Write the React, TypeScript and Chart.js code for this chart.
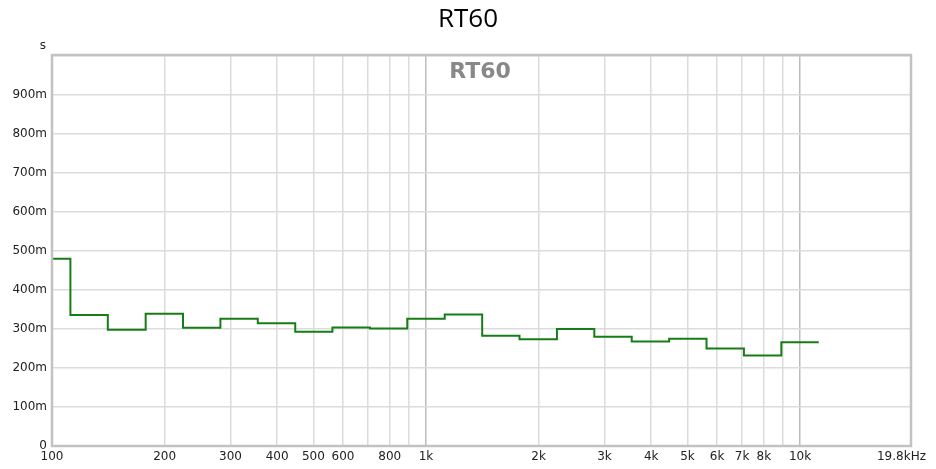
import React, { useEffect, useRef } from "react";
import { Chart, registerables } from "chart.js";

Chart.register(...registerables);

// Third-octave band lower edges (Hz) and RT60 values (s)
const bandStarts = [100, 112, 141, 178, 224, 282, 355, 447, 562, 708, 891, 1122, 1413, 1778, 2239, 2818, 3548, 4467, 5623, 7079, 8913];
const bandEnd = 11220;
const rt60 = [0.48, 0.336, 0.298, 0.339, 0.303, 0.326, 0.315, 0.293, 0.304, 0.301, 0.326, 0.337, 0.283, 0.274, 0.3, 0.28, 0.268, 0.275, 0.25, 0.232, 0.266];

const xTicks = [100, 200, 300, 400, 500, 600, 700, 800, 900, 1000, 2000, 3000, 4000, 5000, 6000, 7000, 8000, 9000, 10000, 19800];
const xTickLabels = ["100", "200", "300", "400", "500", "600", "", "800", "", "1k", "2k", "3k", "4k", "5k", "6k", "7k", "8k", "", "10k", "19.8kHz     "];
const majorX = [1000, 10000];

const FONT = "'DejaVu Sans', sans-serif";

export default function App() {
  const ref = useRef<HTMLCanvasElement | null>(null);

  useEffect(() => {
    if (!ref.current) return;
    const points = bandStarts.map((x, i) => ({ x, y: rt60[i] }));
    points.push({ x: bandEnd, y: rt60[rt60.length - 1] });

    const decor = {
      id: "decor",
      afterDraw(chart: any) {
        const { ctx, chartArea } = chart;
        ctx.save();
        ctx.strokeStyle = "#c2c2c2";
        ctx.lineWidth = 2.5;
        ctx.strokeRect(chartArea.left, chartArea.top - 1, chartArea.right - chartArea.left, chartArea.bottom - chartArea.top + 1);
        ctx.textAlign = "center";
        ctx.textBaseline = "middle";
        ctx.fillStyle = "#000";
        ctx.font = "26px 'Open Sans', sans-serif";
        ctx.fillText("RT60", 468, 20);
        ctx.fillStyle = "#888";
        ctx.font = "bold 22px " + FONT;
        ctx.fillText("RT60", 480, 72);
        ctx.fillStyle = "#222";
        ctx.font = "12px " + FONT;
        ctx.fillText("s", 43, 46);
        ctx.restore();
      },
    };

    const chart = new Chart(ref.current, {
      type: "line",
      data: {
        datasets: [
          {
            data: points,
            stepped: "before",
            borderColor: "#167d16",
            borderWidth: 2,
            pointRadius: 0,
            fill: false,
          },
        ],
      },
      options: {
        animation: false,
        responsive: false,
        devicePixelRatio: 1,
        layout: { padding: { top: 56, right: 25, left: 0, bottom: 0 } },
        plugins: { legend: { display: false }, title: { display: false }, tooltip: { enabled: false } },
        scales: {
          x: {
            type: "logarithmic",
            min: 100,
            max: 19800,
            border: { display: false },
            grid: {
              drawTicks: false,
              lineWidth: 1.5,
              color: (c: any) => (c.tick && majorX.includes(c.tick.value) ? "#bcbcbc" : "#dcdcdc"),
            },
            ticks: {
              autoSkip: false,
              maxRotation: 0,
              padding: 4,
              color: "#222",
              font: { family: FONT, size: 12 },
              callback: (_v: any, i: number) => xTickLabels[i],
            },
            afterBuildTicks: (scale: any) => {
              scale.ticks = xTicks.map((v) => ({ value: v }));
            },
            afterFit: (scale: any) => {
              scale.height = 23;
              scale.paddingLeft = 0;
              scale.paddingRight = 0;
            },
          },
          y: {
            min: 0,
            max: 1,
            border: { display: false },
            grid: { drawTicks: false, lineWidth: 1.5, color: "#dcdcdc" },
            ticks: {
              stepSize: 0.1,
              padding: 5,
              color: "#222",
              font: { family: FONT, size: 12 },
              callback: (v: any) => {
                const n = Number(v);
                if (n === 0) return "0";
                if (n > 0.999) return "";
                return Math.round(n * 1000) + "m";
              },
            },
            afterFit: (scale: any) => {
              scale.width = 52;
              scale.paddingTop = 0;
              scale.paddingBottom = 0;
            },
          },
        },
      },
      plugins: [decor],
    });
    return () => chart.destroy();
  }, []);

  return (
    <div style={{ position: "fixed", left: 0, top: 0, width: 936, height: 469, background: "#fff" }}>
      <canvas ref={ref} width={936} height={469} style={{ width: 936, height: 469, display: "block" }} />
    </div>
  );
}
